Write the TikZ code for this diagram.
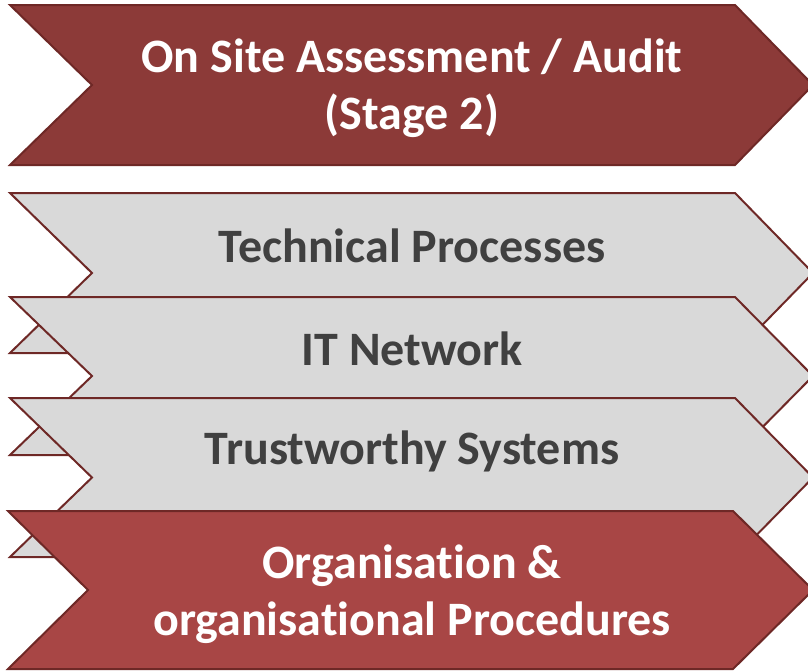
\documentclass[tikz,border=0pt]{standalone}
\usepackage{fontspec}
\setmainfont[Ligatures={NoCommon}]{Carlito}
\definecolor{darkred}{RGB}{140,58,56}
\definecolor{midred}{RGB}{168,70,69}
\definecolor{edgered}{RGB}{110,40,38}
\definecolor{grayfill}{RGB}{217,217,217}
\definecolor{graytext}{RGB}{64,64,64}
\tikzset{
  chevbox/.style={draw=edgered, line width=2pt, line join=miter},
  redchev/.style={chevbox, fill=darkred},
  lightredchev/.style={chevbox, fill=midred},
  graychev/.style={chevbox, fill=grayfill},
  whitelabel/.style={text=white, font=\bfseries\fontsize{48}{57}\selectfont, align=center},
  graylabel/.style={text=graytext, font=\bfseries\fontsize{48}{57}\selectfont, align=center}
}
\newcommand\chevpath[2]{% top y, height
  (10,#1) -- (735,#1) -- (813,{#1+#2/2}) -- (735,{#1+#2}) -- (10,{#1+#2}) -- (92,{#1+#2/2}) -- cycle}
\begin{document}
\begin{tikzpicture}[x=1pt,y=-1pt]
\useasboundingbox (0,0) rectangle (808,670);
\path[redchev] \chevpath{5}{160};
\path[graychev] \chevpath{193}{160};
\path[graychev] \chevpath{297}{158};
\path[graychev] \chevpath{398}{159};
\path[lightredchev] (8,511) -- (733,511) -- (813,590) -- (733,669) -- (8,669) -- (88,590) -- cycle;
\node[whitelabel] (stage) at (412,88.5) {On Site Assessment / Audit\\(Stage 2)};
\node[graylabel] (tech) at (412,246) {Technical Processes};
\node[graylabel] (itnet) at (412,349) {IT Network};
\node[graylabel] (trust) at (412,451) {Trustworthy Systems};
\node[whitelabel] (org) at (412,594.5) {Organisation \&\\organisational Procedures};
\end{tikzpicture}
\end{document}
